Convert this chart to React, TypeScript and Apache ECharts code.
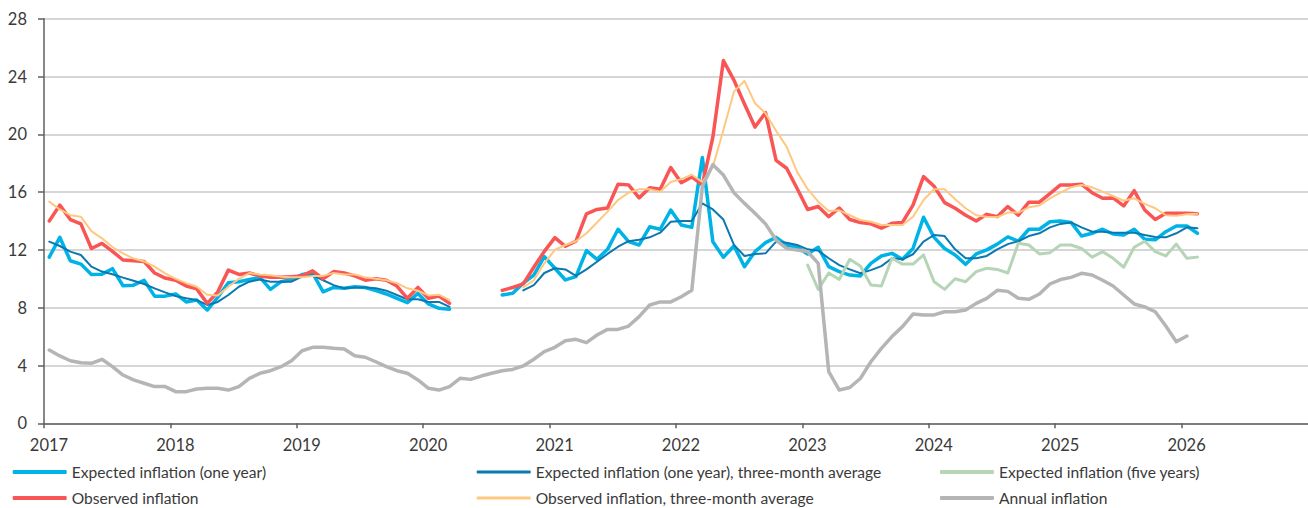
import React, { useEffect, useRef } from "react";
import * as echarts from "echarts";

// Monthly series, index 0 = January 2017 (null = no observation)
const START_YEAR = 2017;
const YEARS_SHOWN = 10;

const expectedOneYear = [
  11.5, 12.87, 11.25, 11.02, 10.3, 10.32, 10.7, 9.52, 9.56, 9.9, 8.8, 8.8,
  8.95, 8.4, 8.53, 7.84, 8.72, 9.73, 9.8, 9.95, 10.1, 9.27, 9.8, 9.95,
  10.3, 10.4, 9.1, 9.4, 9.34, 9.45, 9.4, 9.18, 8.95, 8.65, 8.35, 8.99,
  8.26, 7.96, 7.9, null, null, null, null, 8.88, 9.0, 9.7, 10.26, 11.53,
  10.73, 9.92, 10.15, 11.95, 11.35, 12.04, 13.43, 12.57, 12.34, 13.6, 13.43, 14.76,
  13.72, 13.56, 18.4, 12.57, 11.49, 12.27, 10.84, 11.88, 12.5, 12.87, 12.34, 12.18,
  11.72, 12.18, 10.84, 10.5, 10.26, 10.2, 11.07, 11.58, 11.76, 11.35, 12.1, 14.26,
  12.87, 12.1, 11.65, 11.0, 11.72, 12.0, 12.4, 12.9, 12.6, 13.43, 13.43, 13.95,
  14.0, 13.9, 12.96, 13.15, 13.43, 13.1, 13.03, 13.43, 12.73, 12.7, 13.26, 13.65,
  13.65, 13.15,
];

const expectedOneYearAvg = [
  12.57, 12.27, 11.88, 11.65, 10.84, 10.5, 10.32, 10.08, 9.87, 9.64, 9.34, 9.06,
  8.8, 8.65, 8.53, 8.19, 8.4, 8.88, 9.45, 9.8, 9.95, 9.8, 9.8, 9.8,
  10.15, 10.26, 9.9, 9.56, 9.34, 9.4, 9.4, 9.34, 9.18, 8.88, 8.58, 8.58,
  8.4, 8.4, 8.06, null, null, null, null, null, null, 9.2, 9.56, 10.4,
  10.73, 10.65, 10.2, 10.65, 11.18, 11.72, 12.22, 12.6, 12.7, 12.87, 13.19, 13.95,
  14.0, 14.0, 15.22, 14.8, 14.1, 12.34, 11.58, 11.72, 11.76, 12.57, 12.5, 12.34,
  12.04, 11.95, 11.42, 10.95, 10.65, 10.38, 10.6, 10.88, 11.42, 11.35, 11.7, 12.57,
  13.03, 12.96, 12.04, 11.42, 11.42, 11.58, 12.04, 12.4, 12.6, 12.96, 13.15, 13.56,
  13.8, 13.9, 13.56, 13.26, 13.26, 13.19, 13.19, 13.19, 13.03, 12.9, 12.87, 13.15,
  13.56, 13.5,
];

const expectedFiveYears = [
  null, null, null, null, null, null, null, null, null, null, null, null,
  null, null, null, null, null, null, null, null, null, null, null, null,
  null, null, null, null, null, null, null, null, null, null, null, null,
  null, null, null, null, null, null, null, null, null, null, null, null,
  null, null, null, null, null, null, null, null, null, null, null, null,
  null, null, null, null, null, null, null, null, null, null, null, null,
  10.95, 9.27, 10.4, 9.95, 11.35, 10.88, 9.57, 9.5, 11.42, 11.02, 11.02, 11.65,
  9.8, 9.27, 10.0, 9.8, 10.5, 10.73, 10.65, 10.4, 12.46, 12.34, 11.72, 11.81,
  12.34, 12.34, 12.1, 11.5, 11.88, 11.42, 10.8, 12.18, 12.6, 11.88, 11.58, 12.4,
  11.42, 11.5,
];

const observed = [
  14.0, 15.1, 14.1, 13.8, 12.1, 12.45, 11.9, 11.3, 11.25, 11.2, 10.4, 10.05,
  9.9, 9.5, 9.3, 8.3, 9.1, 10.6, 10.3, 10.4, 10.2, 10.1, 10.1, 10.15,
  10.2, 10.55, 10.0, 10.5, 10.4, 10.2, 9.9, 10.0, 9.9, 9.5, 8.65, 9.4,
  8.65, 8.8, 8.3, null, null, null, null, 9.2, 9.4, 9.65, 10.8, 11.9,
  12.85, 12.25, 12.6, 14.5, 14.8, 14.9, 16.55, 16.5, 15.6, 16.3, 16.2, 17.7,
  16.65, 17.05, 16.5, 19.8, 25.1, 23.75, 22.1, 20.5, 21.5, 18.2, 17.65, 16.25,
  14.8, 15.0, 14.3, 14.9, 14.1, 13.9, 13.8, 13.5, 13.84, 13.9, 15.1, 17.07,
  16.4, 15.27, 14.88, 14.4, 14.0, 14.46, 14.3, 15.0, 14.4, 15.3, 15.3, 15.9,
  16.5, 16.5, 16.55, 15.96, 15.57, 15.6, 15.04, 16.1, 14.76, 14.1, 14.53, 14.53,
  14.53, 14.5,
];

const observedAvg = [
  15.34, 14.8, 14.4, 14.3, 13.3, 12.8, 12.2, 11.76, 11.4, 11.2, 10.84, 10.38,
  10.0, 9.7, 9.45, 8.9, 8.85, 9.45, 10.0, 10.4, 10.3, 10.25, 10.15, 10.1,
  10.1, 10.2, 10.2, 10.4, 10.3, 10.3, 10.1, 10.0, 9.9, 9.7, 9.34, 9.18,
  8.85, 8.9, 8.53, null, null, null, null, null, null, 9.4, 9.9, 11.07,
  12.0, 12.34, 12.6, 13.15, 13.9, 14.65, 15.45, 15.96, 16.2, 16.2, 16.03, 16.7,
  16.9, 17.2, 16.7, 17.76, 20.3, 22.95, 23.7, 22.15, 21.45, 20.25, 19.15, 17.4,
  16.2, 15.34, 14.7, 14.74, 14.4, 14.07, 13.95, 13.72, 13.72, 13.72, 14.3, 15.45,
  16.2, 16.2, 15.5, 14.88, 14.4, 14.3, 14.27, 14.58, 14.58, 14.95, 15.07, 15.57,
  15.96, 16.33, 16.5, 16.33, 16.03, 15.73, 15.4, 15.57, 15.18, 14.88, 14.4, 14.37,
  14.46, 14.5,
];

const annual = [
  5.07, 4.66, 4.33, 4.19, 4.15, 4.43, 3.92, 3.34, 3.0, 2.77, 2.54, 2.54,
  2.19, 2.19, 2.37, 2.42, 2.42, 2.3, 2.54, 3.11, 3.46, 3.64, 3.92, 4.33,
  5.02, 5.26, 5.26, 5.19, 5.14, 4.68, 4.57, 4.26, 3.92, 3.64, 3.46, 3.0,
  2.42, 2.3, 2.54, 3.11, 3.04, 3.27, 3.46, 3.64, 3.73, 3.97, 4.43, 4.96,
  5.26, 5.72, 5.81, 5.58, 6.11, 6.5, 6.5, 6.73, 7.38, 8.19, 8.4, 8.4,
  8.76, 9.2, 16.4, 17.9, 17.18, 15.96, 15.22, 14.53, 13.8, 12.68, 12.1, 12.0,
  11.88, 11.07, 3.57, 2.3, 2.48, 3.1, 4.26, 5.19, 6.0, 6.69, 7.56, 7.5,
  7.5, 7.72, 7.72, 7.84, 8.3, 8.65, 9.2, 9.13, 8.65, 8.58, 8.95, 9.64,
  9.95, 10.1, 10.38, 10.26, 9.9, 9.5, 8.88, 8.26, 8.06, 7.72, 6.73, 5.65,
  6.04,
];

const seriesNames = [
  "Expected inflation (one year)",
  "Expected inflation (one year), three-month average",
  "Expected inflation (five years)",
  "Observed inflation",
  "Observed inflation, three-month average",
  "Annual inflation",
];

const FONT = "Lato, 'Liberation Sans', sans-serif";
const TEXT_COLOR = "#3a3a3a";

// Each monthly observation is placed in the middle of its month.
const toPoints = (values: (number | null)[]) =>
  values.map((v, i) => [i + 0.5, v]);

export default function App() {
  const ref = useRef<HTMLDivElement>(null);

  useEffect(() => {
    if (!ref.current) return;
    const chart = echarts.init(ref.current, undefined, { renderer: "svg" });

    const styles = [
      { color: "#00b3e6", width: 3.5 },
      { color: "#0b78b0", width: 2 },
      { color: "#b6d5b6", width: 3 },
      { color: "#fa5555", width: 3.5 },
      { color: "#ffc880", width: 2 },
      { color: "#b5b5b5", width: 3.5 },
    ];
    const dataSets = [
      expectedOneYear,
      expectedOneYearAvg,
      expectedFiveYears,
      observed,
      observedAvg,
      annual,
    ];

    const legendPos = [
      { left: 12.7, top: 464 },
      { left: 476.7, top: 464 },
      { left: 940, top: 464 },
      { left: 12.7, top: 490 },
      { left: 476.7, top: 490 },
      { left: 940, top: 490 },
    ];
    const legendHeights = [4, 3, 4, 4, 3, 4];

    chart.setOption({
      animation: false,
      backgroundColor: "#ffffff",
      textStyle: { fontFamily: FONT },
      grid: { left: 44, top: 18.7, width: 1266.7, height: 404.6 },
      xAxis: {
        type: "value",
        min: 0,
        max: YEARS_SHOWN * 12,
        interval: 12,
        axisLine: { show: true, lineStyle: { color: "#5f5f5f", width: 1.5 } },
        axisTick: { show: true, length: 5, lineStyle: { color: "#5f5f5f", width: 1.5 } },
        axisLabel: {
          color: TEXT_COLOR,
          fontSize: 16.5,
          fontFamily: FONT,
          margin: 13,
          padding: [0, 0, 0, 10],
          showMaxLabel: false,
          formatter: (v: number) => String(START_YEAR + Math.round(v / 12)),
        },
        splitLine: { show: false },
      },
      yAxis: {
        type: "value",
        min: 0,
        max: 28,
        interval: 4,
        axisLine: { show: true, lineStyle: { color: "#5f5f5f", width: 1.5 } },
        axisTick: { show: true, length: 6, lineStyle: { color: "#5f5f5f", width: 1.5 } },
        axisLabel: { color: TEXT_COLOR, fontSize: 16.5, fontFamily: FONT, margin: 17 },
        splitLine: { show: true, lineStyle: { color: "#c8c8c8", width: 1.5 } },
      },
      legend: seriesNames.map((name, k) => ({
        data: [name],
        left: legendPos[k].left,
        top: legendPos[k].top,
        padding: 0,
        icon: "roundRect",
        itemWidth: 54,
        itemHeight: legendHeights[k],
        selectedMode: false,
        textStyle: { color: TEXT_COLOR, fontSize: 15.6, fontFamily: FONT },
      })),
      series: seriesNames.map((name, k) => ({
        name,
        type: "line",
        data: toPoints(dataSets[k]),
        showSymbol: false,
        symbol: "none",
        connectNulls: false,
        color: styles[k].color,
        lineStyle: {
          color: styles[k].color,
          width: styles[k].width,
          cap: "round",
          join: "round",
        },
        emphasis: { disabled: true },
      })),
    });

    return () => chart.dispose();
  }, []);

  return (
    <div
      ref={ref}
      style={{ position: "absolute", left: 0, top: 0, width: 1308, height: 508 }}
    />
  );
}
